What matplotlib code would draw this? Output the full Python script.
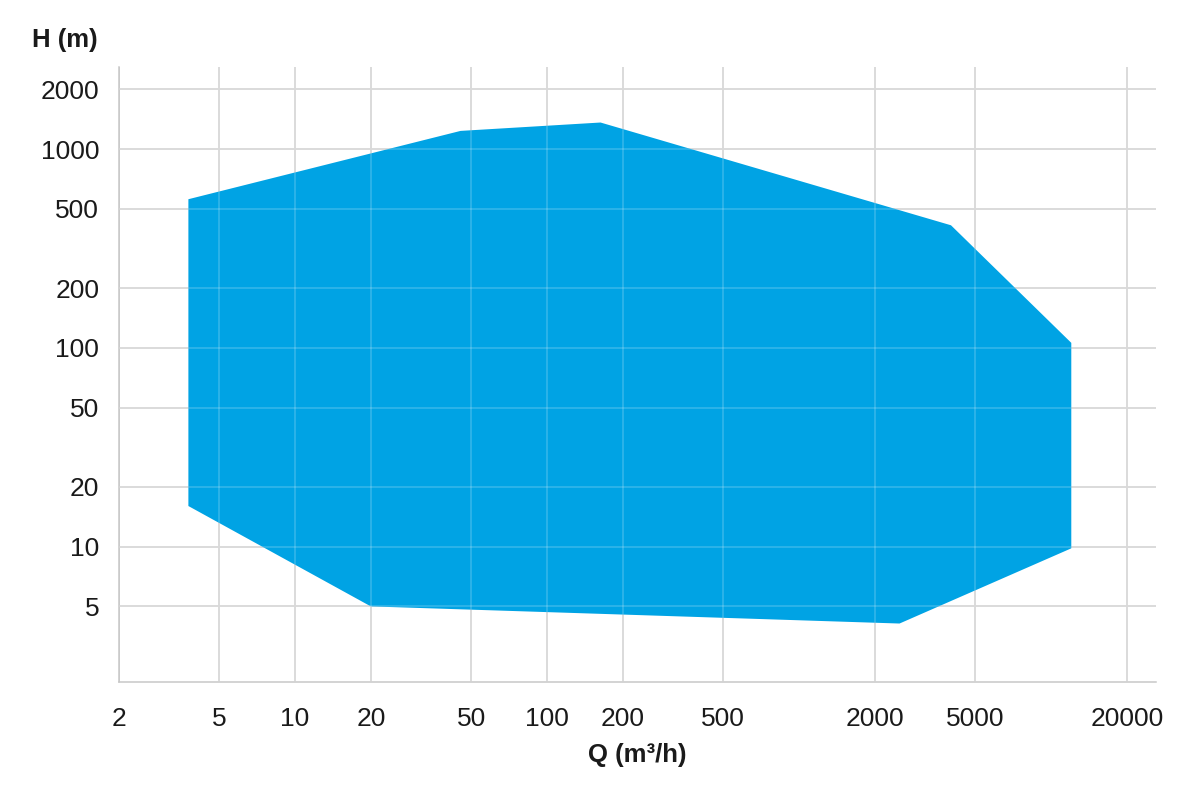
import matplotlib
matplotlib.use("Agg")
import matplotlib.pyplot as plt
from matplotlib.ticker import FixedLocator, FixedFormatter, NullLocator

# Data: envelope polygon (Q in m3/h, H in m)
q_vals = [3.78, 3.78, 20, 2500, 12000, 12000, 4000, 163, 45.4]
h_vals = [560, 16.0, 5.0, 4.1, 9.8, 106, 414, 1362, 1236]

x_ticks = [2, 5, 10, 20, 50, 100, 200, 500, 2000, 5000, 20000]
x_labels = ["2", "5", "10", "20", "50", "100", "200", "500", "2000", "5000", "20000"]
y_ticks = [5, 10, 20, 50, 100, 200, 500, 1000, 2000]
y_labels = ["5", "10", "20", "50", "100", "200", "500", "1000", "2000"]

plt.rcParams['font.family'] = ['Liberation Sans', 'DejaVu Sans']

fig = plt.figure(figsize=(12, 8), dpi=100)
ax = fig.add_axes([0.0989, 0.1479, 0.9633 - 0.0989, 0.9166 - 0.1479])
ax.set_xscale('log')
ax.set_yscale('log')
ax.set_xlim(2.0, 26000)
ax.set_ylim(2.09, 2600)

ax.fill(q_vals, h_vals, color='#00A3E4', lw=0, zorder=2)

ax.xaxis.set_major_locator(FixedLocator(x_ticks))
ax.xaxis.set_major_formatter(FixedFormatter(x_labels))
ax.xaxis.set_minor_locator(NullLocator())
ax.yaxis.set_major_locator(FixedLocator(y_ticks))
ax.yaxis.set_major_formatter(FixedFormatter(y_labels))
ax.yaxis.set_minor_locator(NullLocator())

ax.set_axisbelow(True)
ax.grid(True, which='major', color='#c8c8c8', lw=1.1)
for xt in x_ticks[1:]:
    ax.axvline(xt, color='white', alpha=0.22, lw=1.1, zorder=3)
for yt in y_ticks:
    ax.axhline(yt, color='white', alpha=0.22, lw=1.1, zorder=3)

for s in ['top', 'right']:
    ax.spines[s].set_visible(False)
for s in ['left', 'bottom']:
    ax.spines[s].set_color('#c8c8c8')
    ax.spines[s].set_linewidth(1.1)

ax.tick_params(axis='both', length=0, labelsize=19, labelcolor='#1a1a1a')
ax.tick_params(axis='y', pad=14)
ax.tick_params(axis='x', pad=18)

fig.text(0.0817, 0.935, "H (m)", ha='right', va='bottom', fontsize=18.5,
         fontweight='bold', color='#1a1a1a')
ax.set_xlabel("Q (m³/h)", fontsize=18.5, fontweight='bold', color='#1a1a1a', labelpad=9)

fig.savefig("out.png", dpi=100, facecolor='white')
